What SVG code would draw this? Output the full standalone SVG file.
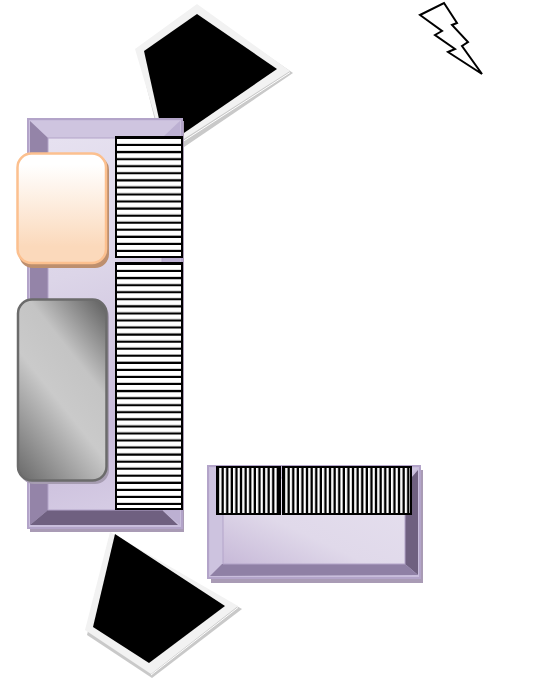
<svg xmlns="http://www.w3.org/2000/svg" width="540" height="685" viewBox="0 0 540 685">
<defs>
<linearGradient id="inner1" gradientUnits="userSpaceOnUse" x1="48" y1="140" x2="162" y2="510">
<stop offset="0" stop-color="#e6e1f0"/><stop offset="0.35" stop-color="#dcd5e8"/><stop offset="0.75" stop-color="#c8bbda"/><stop offset="1" stop-color="#d8cfe6"/>
</linearGradient>
<linearGradient id="inner2" x1="0" y1="1" x2="1" y2="0">
<stop offset="0" stop-color="#c7b9d8"/><stop offset="0.4" stop-color="#e0d9ea"/><stop offset="1" stop-color="#e6e0ef"/>
</linearGradient>
<linearGradient id="peach" x1="0" y1="0" x2="0" y2="1">
<stop offset="0.1" stop-color="#fff"/><stop offset="0.85" stop-color="#fbd9bb"/>
</linearGradient>
<linearGradient id="grey" gradientUnits="userSpaceOnUse" x1="105" y1="300" x2="-36" y2="412">
<stop offset="0" stop-color="#5e5e5e"/><stop offset="0.33" stop-color="#c4c4c4"/><stop offset="0.55" stop-color="#cacaca"/><stop offset="1" stop-color="#686868"/>
</linearGradient>
</defs>
<style>
.band{fill:#f2f2f2}.sh{fill:#c9c9c9}.blk{fill:#000}.hi{stroke:#fff;stroke-width:1;fill:none}
.edge{fill:none;stroke:#b3a4c9;stroke-width:2}
.box{fill:#fff;stroke:#000;stroke-width:2}
.outline{fill:none;stroke:#000;stroke-width:2}
.hb{stroke:#000;stroke-width:66;stroke-dasharray:2.06 5}
.hg{stroke:#d0d0d0;stroke-width:66;stroke-dasharray:0.9 6.16}
.vb{stroke:#000;stroke-width:47;stroke-dasharray:2.2 2.4}
.vg{stroke:#c8c8c8;stroke-width:47;stroke-dasharray:0.8 3.8}
</style>

<g id="quad-top">
<polygon class="sh" points="138,53 199,8 293,73 165,160"/>
<polygon class="band" points="135,49 197,4 290,71 165,151"/>
<path class="hi" d="M290,72.5L165,153"/>
<polygon class="blk" points="144,51 197,14 277,69 165,146"/>
</g>

<g id="quad-bottom">
<polygon class="sh" points="87,635 152,678 242,609 112,536"/>
<polygon class="band" points="110,532 238,606 151,674 85,630"/>
<path class="hi" d="M238,607.5L151,675"/>
<polygon class="blk" points="115,534 225,606 149,663 93,627"/>
</g>

<g id="frame-left">
<rect x="30" y="121" width="154" height="411" fill="#a99bb5"/>
<rect x="28" y="119" width="154" height="409" fill="#c9bedc"/>
<polygon points="30,121 180,121 162,138 48,138" fill="#cfc5e0"/>
<polygon points="30,121 48,138 48,510 30,525" fill="#9484a8"/>
<polygon points="180,121 180,525 162,510 162,138" fill="#bcb0d2"/>
<polygon points="30,525 48,510 162,510 178,525" fill="#6f6080"/>
<rect x="48" y="138" width="114" height="372" fill="url(#inner1)"/>
<rect x="28" y="119" width="154" height="409" class="edge"/>
<path d="M48,138H162V510H48Z" fill="none" stroke="#b3a4c9"/>
</g>

<g id="frame-bottom">
<rect x="211" y="470" width="212" height="113" fill="#a99bb5"/>
<rect x="208" y="466" width="212" height="112" fill="#c9bedc"/>
<polygon points="210,468 418,468 406,478 223,478" fill="#cfc5e0"/>
<polygon points="210,468 223,478 223,564 210,576" fill="#cdc3df"/>
<polygon points="418,470 418,575 405,564 405,485" fill="#6f6080"/>
<polygon points="210,576 222,564 405,564 418,575" fill="#8f80a5"/>
<rect x="223" y="478" width="182" height="86" fill="url(#inner2)"/>
<rect x="208" y="466" width="212" height="112" class="edge"/>
<path d="M223,478H405V564H223Z" fill="none" stroke="#b3a4c9"/>
</g>

<g id="stripes-upper">
<rect x="116" y="137" width="66" height="120" class="box"/>
<line x1="149" y1="143.16" x2="149" y2="257" class="hg"/>
<line x1="149" y1="137" x2="149" y2="257" class="hb"/>
<rect x="116" y="137" width="66" height="120" class="outline"/>
</g>
<g id="stripes-lower">
<rect x="116" y="263" width="66" height="246" class="box"/>
<line x1="149" y1="269.16" x2="149" y2="509" class="hg"/>
<line x1="149" y1="263" x2="149" y2="509" class="hb"/>
<rect x="116" y="263" width="66" height="246" class="outline"/>
</g>
<g id="stripes-bottom-a">
<rect x="217" y="467" width="63" height="47" class="box"/>
<line x1="220.8" y1="490.5" x2="280" y2="490.5" class="vg"/>
<line x1="217" y1="490.5" x2="280" y2="490.5" class="vb"/>
<rect x="217" y="467" width="63" height="47" class="outline"/>
</g>
<g id="stripes-bottom-b">
<rect x="283" y="467" width="128" height="47" class="box"/>
<line x1="286.8" y1="490.5" x2="411" y2="490.5" class="vg"/>
<line x1="283" y1="490.5" x2="411" y2="490.5" class="vb"/>
<rect x="283" y="467" width="128" height="47" class="outline"/>
</g>

<g id="box-peach">
<rect x="19" y="156" width="90" height="112" rx="14" fill="#bd8f6e"/>
<rect x="17.5" y="153.5" width="88.5" height="109.5" rx="14" fill="url(#peach)" stroke="#fcc08f" stroke-width="2.5"/>
</g>

<g id="box-grey">
<rect x="20" y="303" width="89" height="181" rx="14" fill="#a79db2"/>
<rect x="18" y="299.5" width="88.5" height="181" rx="14" fill="url(#grey)" stroke="#6b6b6b" stroke-width="2.5"/>
</g>

<g id="bolt">
<polygon points="420,15 444,3 457,23 452,25 468,42 462,46 482,74 448,52 455,49 435,35 442,31" fill="#fff" stroke="#000" stroke-width="2"/>
</g>

<g id="connectors"></g>
</svg>
